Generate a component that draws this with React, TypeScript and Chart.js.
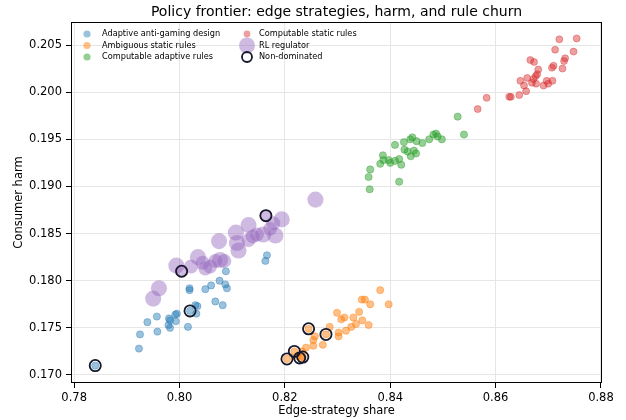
import { useEffect, useRef } from "react";
import { Chart, registerables } from "chart.js";

Chart.register(...registerables);

const TITLE = "Policy frontier: edge strategies, harm, and rule churn";
const X_LABEL = "Edge-strategy share";
const Y_LABEL = "Consumer harm";

const X_TICKS = [0.78, 0.8, 0.82, 0.84, 0.86, 0.88];
const X_TICK_LABELS = ["0.78", "0.80", "0.82", "0.84", "0.86", "0.88"];
const Y_TICKS = [0.17, 0.175, 0.18, 0.185, 0.19, 0.195, 0.2, 0.205];
const Y_TICK_LABELS = ["0.170", "0.175", "0.180", "0.185", "0.190", "0.195", "0.200", "0.205"];
const X_RANGE = [0.7794, 0.8802];
const Y_RANGE = [0.16915, 0.20744];

// Adaptive anti-gaming design
const adaptiveX = [0.784, 0.7923, 0.7925, 0.7939, 0.7958, 0.7957, 0.7979, 0.7982, 0.798, 0.7982, 0.7993, 0.7992, 0.7995, 0.8016, 0.8019, 0.8019, 0.802, 0.803, 0.8032, 0.8034, 0.8049, 0.806, 0.8068, 0.8082, 0.8076, 0.8087, 0.809, 0.8088, 0.8166, 0.8163];
const adaptiveY = [0.171, 0.1728, 0.1743, 0.1756, 0.1746, 0.1762, 0.1753, 0.175, 0.176, 0.1758, 0.1757, 0.1764, 0.1765, 0.1751, 0.1792, 0.179, 0.1768, 0.1774, 0.1765, 0.1773, 0.1791, 0.1795, 0.1778, 0.1774, 0.18, 0.1796, 0.1792, 0.181, 0.1827, 0.1821];

// Ambiguous static rules
const ambiguousX = [0.8381, 0.8397, 0.8346, 0.8352, 0.8362, 0.8299, 0.8307, 0.8313, 0.833, 0.8341, 0.8347, 0.8359, 0.8335, 0.8326, 0.8316, 0.8302, 0.8302, 0.8285, 0.8272, 0.8254, 0.8257, 0.8254, 0.824, 0.8233, 0.8245, 0.8278, 0.8218, 0.8204, 0.823, 0.8234, 0.8223];
const ambiguousY = [0.179, 0.1775, 0.178, 0.178, 0.1775, 0.1766, 0.1759, 0.1761, 0.1761, 0.1767, 0.1758, 0.1753, 0.1754, 0.1751, 0.1747, 0.1745, 0.1741, 0.1751, 0.1732, 0.1737, 0.1741, 0.1731, 0.1729, 0.1725, 0.1749, 0.1743, 0.1725, 0.1717, 0.1718, 0.1719, 0.172];

// Computable adaptive rules
const compAdaptiveX = [0.8528, 0.854, 0.8482, 0.8487, 0.849, 0.8498, 0.8474, 0.8461, 0.8442, 0.8438, 0.845, 0.8426, 0.8409, 0.8427, 0.8433, 0.8449, 0.8445, 0.8439, 0.8386, 0.8387, 0.8381, 0.8397, 0.84, 0.8409, 0.8417, 0.8421, 0.8362, 0.8359, 0.8361, 0.8417];
const compAdaptiveY = [0.1974, 0.1955, 0.1955, 0.1956, 0.1953, 0.195, 0.195, 0.1946, 0.1952, 0.195, 0.1948, 0.1947, 0.1944, 0.1939, 0.1937, 0.1935, 0.1938, 0.1932, 0.1933, 0.1928, 0.1924, 0.1928, 0.1925, 0.1927, 0.1929, 0.1923, 0.1918, 0.191, 0.1897, 0.1905];

// Computable static rules
const compStaticX = [0.8754, 0.8721, 0.8713, 0.8748, 0.8732, 0.873, 0.8727, 0.871, 0.8707, 0.8666, 0.8673, 0.8681, 0.8679, 0.8676, 0.8672, 0.866, 0.8647, 0.8669, 0.8677, 0.8654, 0.8708, 0.8697, 0.87, 0.8691, 0.8658, 0.8645, 0.8629, 0.8626, 0.8583, 0.8566];
const compStaticY = [0.2057, 0.2056, 0.2045, 0.2043, 0.2036, 0.2033, 0.2025, 0.2028, 0.2026, 0.2034, 0.2032, 0.2024, 0.2019, 0.2017, 0.2014, 0.2015, 0.2012, 0.201, 0.2009, 0.2007, 0.2012, 0.2012, 0.2009, 0.2007, 0.2001, 0.1997, 0.1995, 0.1995, 0.1994, 0.1982];

// RL regulator (marker size encodes rule churn)
const rlX = [0.795, 0.7961, 0.7994, 0.8004, 0.8022, 0.8035, 0.8044, 0.8049, 0.8058, 0.8068, 0.8077, 0.8085, 0.8075, 0.8107, 0.8109, 0.8112, 0.8131, 0.8131, 0.8139, 0.8147, 0.8159, 0.8164, 0.8172, 0.8178, 0.8182, 0.8194, 0.8258];
const rlY = [0.1781, 0.1792, 0.1816, 0.181, 0.1815, 0.1825, 0.1819, 0.1813, 0.1815, 0.1821, 0.1822, 0.1821, 0.1842, 0.1851, 0.184, 0.1832, 0.1859, 0.1843, 0.1847, 0.1849, 0.1849, 0.1869, 0.1855, 0.1861, 0.1848, 0.1865, 0.1886];
const rlChurn = [0.85, 0.85, 0.85, 0.2, 0.5, 0.85, 0.5, 0.5, 0.5, 0.5, 0.85, 0.5, 0.85, 0.85, 0.85, 0.85, 0.85, 0.5, 0.5, 0.5, 0.85, 0.2, 0.5, 0.5, 0.85, 0.85, 0.85];

// Non-dominated configurations
const frontierX = [0.784, 0.8004, 0.802, 0.8164, 0.8245, 0.8278, 0.8218, 0.8204, 0.8228, 0.8234];
const frontierY = [0.171, 0.181, 0.1768, 0.1869, 0.1749, 0.1743, 0.1725, 0.1717, 0.1718, 0.1719];

const FONT = "'DejaVu Sans', sans-serif";
const zip = (xs: number[], ys: number[]) => xs.map((x, i) => ({ x, y: ys[i] }));
const churnRadius = (c: number) => 5.5 + 3 * c;

const COLORS = {
  blue: "rgba(31,119,180,0.45)",
  orange: "rgba(255,127,14,0.5)",
  green: "rgba(44,160,44,0.5)",
  red: "rgba(214,39,40,0.45)",
  purple: "rgba(148,103,189,0.45)",
  edge: "#15172a",
};

const LEGEND = [
  { label: "Adaptive anti-gaming design", col: 0, row: 0, kind: "dot", color: COLORS.blue, r: 3.6 },
  { label: "Ambiguous static rules", col: 0, row: 1, kind: "dot", color: COLORS.orange, r: 3.6 },
  { label: "Computable adaptive rules", col: 0, row: 2, kind: "dot", color: COLORS.green, r: 3.6 },
  { label: "Computable static rules", col: 1, row: 0, kind: "dot", color: COLORS.red, r: 3.4 },
  { label: "RL regulator", col: 1, row: 1, kind: "dot", color: COLORS.purple, r: 8 },
  { label: "Non-dominated", col: 1, row: 2, kind: "ring", color: COLORS.edge, r: 5 },
];

const overlay = {
  id: "overlay",
  afterDraw(chart: any) {
    const { ctx, chartArea: a } = chart;
    ctx.save();
    // frame
    ctx.strokeStyle = "#000";
    ctx.lineWidth = 1;
    ctx.strokeRect(Math.round(a.left) + 0.5, Math.round(a.top) + 0.5, Math.round(a.right - a.left) - 1, Math.round(a.bottom - a.top) - 1);
    // title
    ctx.fillStyle = "#000";
    ctx.font = `14px ${FONT}`;
    ctx.textAlign = "center";
    ctx.textBaseline = "alphabetic";
    ctx.fillText(TITLE, (a.left + a.right) / 2, 16);
    // legend
    const colMarker = [87, 247];
    const colText = [102, 259];
    const rowY = [34, 45.5, 57];
    ctx.font = `8.2px ${FONT}`;
    ctx.textAlign = "left";
    ctx.textBaseline = "middle";
    for (const item of LEGEND) {
      const mx = colMarker[item.col];
      const my = rowY[item.row];
      ctx.beginPath();
      ctx.arc(mx, my, item.r, 0, Math.PI * 2);
      if (item.kind === "dot") {
        ctx.fillStyle = item.color;
        ctx.fill();
      } else {
        ctx.strokeStyle = item.color;
        ctx.lineWidth = 1.8;
        ctx.stroke();
      }
      ctx.fillStyle = "#000";
      ctx.fillText(item.label, colText[item.col], my);
    }
    ctx.restore();
  },
};

export default function App() {
  const ref = useRef<HTMLCanvasElement | null>(null);

  useEffect(() => {
    document.body.style.margin = "0";
    const canvas = ref.current;
    if (!canvas) return;
    const dot = (label: string, xs: number[], ys: number[], color: string, order: number, radius: any, bw: number) => ({
      label,
      data: zip(xs, ys),
      backgroundColor: color,
      borderColor: color,
      borderWidth: bw,
      pointRadius: radius,
      pointHoverRadius: radius,
      order,
    });
    const chart = new Chart(canvas, {
      type: "scatter",
      data: {
        datasets: [
          dot("Adaptive anti-gaming design", adaptiveX, adaptiveY, COLORS.blue, 6, 3.6, 0.8),
          dot("Ambiguous static rules", ambiguousX, ambiguousY, COLORS.orange, 5, 3.6, 0.8),
          dot("Computable adaptive rules", compAdaptiveX, compAdaptiveY, COLORS.green, 4, 3.6, 0.8),
          dot("Computable static rules", compStaticX, compStaticY, COLORS.red, 3, 3.5, 0.8),
          dot("RL regulator", rlX, rlY, COLORS.purple, 2, rlChurn.map(churnRadius), 0),
          {
            label: "Non-dominated",
            data: zip(frontierX, frontierY),
            backgroundColor: "rgba(0,0,0,0)",
            borderColor: COLORS.edge,
            borderWidth: 1.8,
            pointRadius: 5.6,
            pointHoverRadius: 5.6,
            order: 1,
          } as any,
        ],
      },
      options: {
        animation: false,
        responsive: false,
        devicePixelRatio: 1,
        layout: { padding: { top: 22, right: 24, left: 0, bottom: 0 } },
        plugins: {
          legend: { display: false },
          title: { display: false },
          tooltip: { enabled: false },
        },
        scales: {
          x: {
            type: "linear",
            min: X_RANGE[0],
            max: X_RANGE[1],
            afterBuildTicks: (s: any) => {
              s.ticks = X_TICKS.map((value) => ({ value }));
            },
            afterFit: (s: any) => {
              s.height = 37;
            },
            ticks: {
              callback: (_v: any, i: number) => X_TICK_LABELS[i],
              font: { family: FONT, size: 11.5 },
              color: "#000",
              padding: 3,
              maxRotation: 0,
              autoSkip: false,
            },
            grid: { color: "#e6e6e6", lineWidth: 1, tickColor: "#000", tickLength: 5, tickWidth: 1 },
            border: { display: false },
            title: { display: true, text: X_LABEL, font: { family: FONT, size: 11.5 }, color: "#000", padding: { top: 0, bottom: 2 } },
          },
          y: {
            type: "linear",
            min: Y_RANGE[0],
            max: Y_RANGE[1],
            afterBuildTicks: (s: any) => {
              s.ticks = Y_TICKS.map((value) => ({ value }));
            },
            afterFit: (s: any) => {
              s.width = 71;
            },
            ticks: {
              callback: (_v: any, i: number) => Y_TICK_LABELS[i],
              font: { family: FONT, size: 11.5 },
              color: "#000",
              padding: 4,
              autoSkip: false,
            },
            grid: { color: "#e6e6e6", lineWidth: 1, tickColor: "#000", tickLength: 5, tickWidth: 1 },
            border: { display: false },
            title: { display: true, text: Y_LABEL, font: { family: FONT, size: 11.5 }, color: "#000", padding: { top: 12.5, bottom: 0 } },
          },
        },
      },
      plugins: [overlay],
    });
    return () => chart.destroy();
  }, []);

  return (
    <div style={{ width: 626, height: 420 }}>
      <canvas ref={ref} width={626} height={420} style={{ display: "block" }} />
    </div>
  );
}
